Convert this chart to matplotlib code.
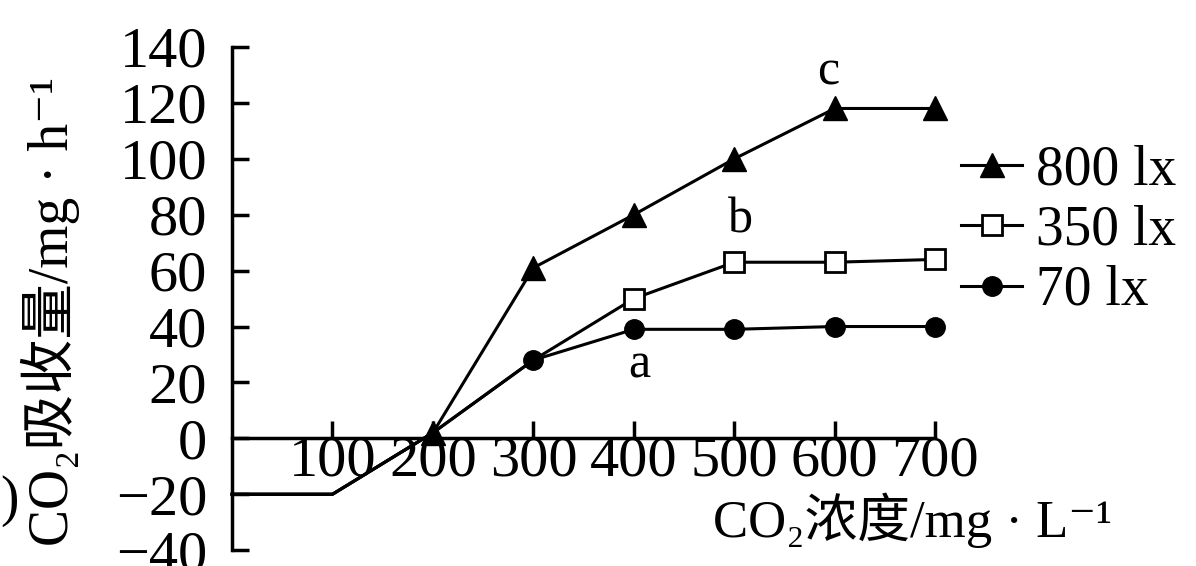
import matplotlib.pyplot as plt
import numpy as np

plt.rcParams['font.family'] = ['Liberation Serif', 'Noto Sans CJK SC', 'DejaVu Serif']

co2 = [0, 100, 200, 300, 400, 500, 600, 700]
lx800 = [-20, -20, 2, 61, 80, 100, 118, 118]
lx350 = [-20, -20, 2, 28, 50, 63, 63, 64]
lx70 = [-20, -20, 2, 28, 39, 39, 40, 40]

yticks = [-40, -20, 0, 20, 40, 60, 80, 100, 120, 140]
xticks = [100, 200, 300, 400, 500, 600, 700]

fig = plt.figure(figsize=(11.96, 5.66), dpi=100)
ax = fig.add_axes([0.194, 0.028, 0.588, 0.889])

lw = 2.2
ax.plot(co2, lx800, color='black', lw=lw, marker='^', markersize=17,
        markevery=[2, 3, 4, 5, 6, 7], label='800 lx', clip_on=False)
ax.plot(co2, lx350, color='black', lw=lw, marker='s', markersize=14,
        markerfacecolor='white', markeredgewidth=2,
        markevery=[4, 5, 6, 7], label='350 lx', clip_on=False)
ax.plot(co2, lx70, color='black', lw=lw, marker='o', markersize=14,
        markevery=[3, 4, 5, 6, 7], label='70 lx', clip_on=False)

ax.set_xlim(0, 700)
ax.set_ylim(-40, 140)
ax.spines['top'].set_visible(False)
ax.spines['right'].set_visible(False)
ax.spines['bottom'].set_position(('data', 0))
for s in ['left', 'bottom']:
    ax.spines[s].set_linewidth(2.5)

ax.set_yticks(yticks)
ax.set_yticklabels(['\u221240' if v == -40 else '\u221220' if v == -20 else str(v) for v in yticks])
ax.set_xticks(xticks)
ax.set_xticklabels([str(v) for v in xticks])
ax.tick_params(axis='y', direction='in', length=12, width=2.5, labelsize=42, pad=18)
ax.tick_params(axis='x', direction='in', length=12, width=2.5, labelsize=42, pad=-2)

ax.text(405, 26, 'a', fontsize=36, ha='center', va='center')
ax.text(506, 78, 'b', fontsize=36, ha='center', va='center')
ax.text(593, 131, 'c', fontsize=36, ha='center', va='center')

fig.text(0.042, 0.45, 'CO\u2082吸收量/mg \u00b7 h\u207b\u00b9', rotation=90,
         fontsize=40, ha='center', va='center')
fig.text(0.93, 0.08, 'CO\u2082浓度/mg \u00b7 L\u207b\u00b9', fontsize=38,
         ha='right', va='center')
fig.text(0.0, 0.115, ')', fontsize=40, ha='left', va='center')

leg = ax.legend(loc='center left', bbox_to_anchor=(1.005, 0.635), frameon=False,
                fontsize=40, handlelength=1.1, handletextpad=0.25,
                labelspacing=0.15, borderaxespad=0)

fig.savefig('out.png', dpi=100)
